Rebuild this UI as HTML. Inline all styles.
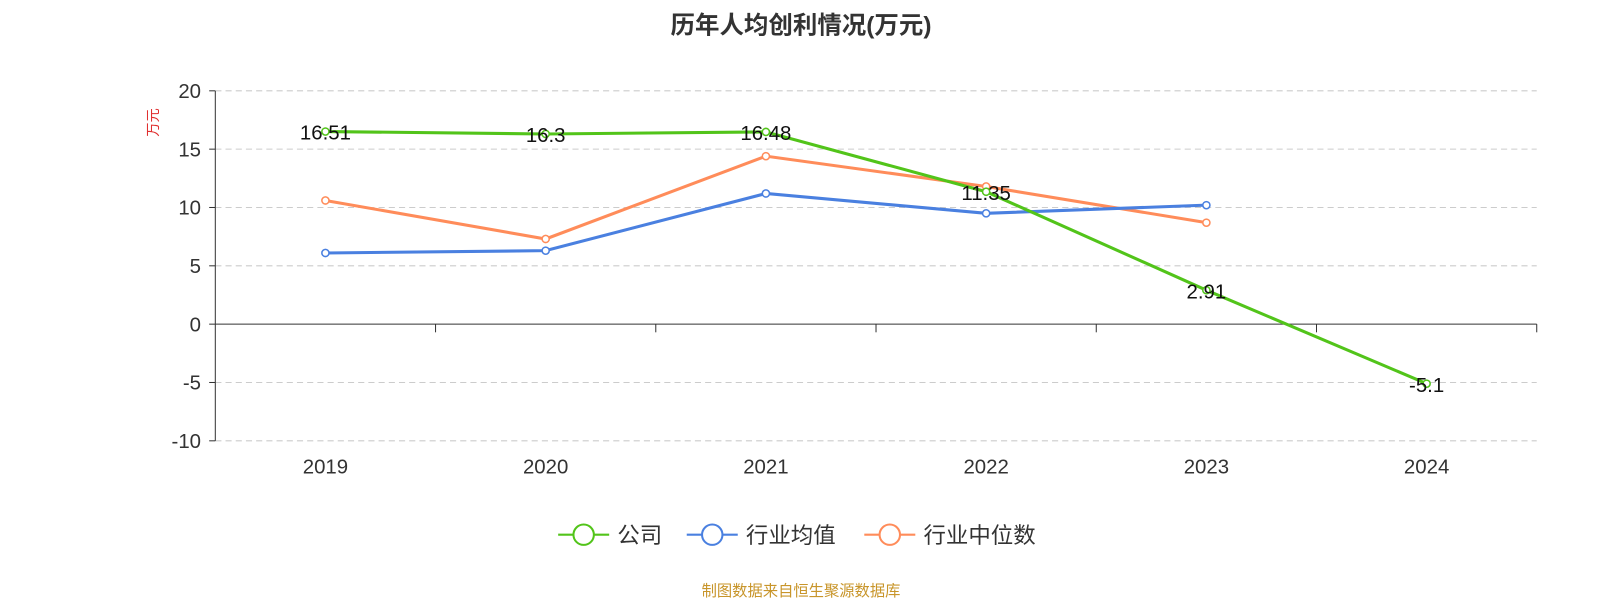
<!DOCTYPE html>
<html><head><meta charset="utf-8"><style>
body{margin:0;background:#fff;width:1600px;height:600px;overflow:hidden;font-family:"Liberation Sans","Noto Sans CJK SC",sans-serif}
svg{display:block}
</style></head><body>
<svg id="c" width="1600" height="600" viewBox="0 0 1568 588" xmlns="http://www.w3.org/2000/svg" font-family="Liberation Sans, Noto Sans CJK SC, sans-serif">
<text x="785" y="33" text-anchor="middle" font-size="24" font-weight="bold" fill="#333">历年人均创利情况(万元)</text>
<text transform="translate(155,120) rotate(-90)" text-anchor="middle" font-size="14" fill="#e03030">万元</text>
<g id="grid"></g><g id="axes"></g><g id="series"></g>
<g>
<g><line x1="547" y1="524" x2="597" y2="524" stroke="#52c41a" stroke-width="2"/><circle cx="572" cy="524" r="10" fill="#fff" stroke="#52c41a" stroke-width="2"/><text x="605" y="532" font-size="22" fill="#333">公司</text></g>
<g><line x1="673" y1="524" x2="723" y2="524" stroke="#4a80e0" stroke-width="2"/><circle cx="698" cy="524" r="10" fill="#fff" stroke="#4a80e0" stroke-width="2"/><text x="731" y="532" font-size="22" fill="#333">行业均值</text></g>
<g><line x1="847" y1="524" x2="897" y2="524" stroke="#ff8c5a" stroke-width="2"/><circle cx="872" cy="524" r="10" fill="#fff" stroke="#ff8c5a" stroke-width="2"/><text x="905" y="532" font-size="22" fill="#333">行业中位数</text></g>
</g>
<text x="785" y="584" text-anchor="middle" font-size="15" fill="#c8952a">制图数据来自恒生聚源数据库</text>
</svg>
<script>
const categories=["2019","2020","2021","2022","2023","2024"];
const company=[16.51,16.3,16.48,11.35,2.91,-5.1];
const industryAvg=[6.1,6.3,11.2,9.5,10.2];
const industryMedian=[10.6,7.3,14.4,11.8,8.7];
const yTicks=[20,15,10,5,0,-5,-10];
const NS="http://www.w3.org/2000/svg";
const L=211,R=1506,T=89,B=432,ymin=-10,ymax=20;
const bw=(R-L)/categories.length;
const x=i=>L+bw*(i+0.5);
const y=v=>B-(v-ymin)/(ymax-ymin)*(B-T);
function mk(tag,attrs,parent,text){const e=document.createElementNS(NS,tag);for(const k in attrs)e.setAttribute(k,attrs[k]);if(text!==undefined)e.textContent=text;document.getElementById(parent).appendChild(e);return e;}
yTicks.forEach(v=>{
 if(v!==0){const g=mk('line',{x1:L,x2:R,y1:y(v),y2:y(v),stroke:'#ccc','stroke-dasharray':'6,4'},'grid');
 
 }
 const t=mk('line',{x1:L-6,x2:L,y1:y(v),y2:y(v),stroke:'#333'},'axes');
 
 
 const l=mk('text',{x:L-14,y:y(v)+7,'text-anchor':'end','font-size':20,fill:'#333'},'axes',String(v));
 
 
});
const ya=mk('line',{x1:L,x2:L,y1:T,y2:B,stroke:'#333'},'axes');


const xa=mk('line',{x1:L,x2:R,y1:y(0),y2:y(0),stroke:'#333'},'axes');


categories.forEach((c,i)=>{
 const t=mk('line',{x1:L+bw*(i+1),x2:L+bw*(i+1),y1:y(0),y2:y(0)+8,stroke:'#333'},'axes');
 
 
 const l=mk('text',{x:x(i),y:464,'text-anchor':'middle','font-size':20,fill:'#333'},'axes',c);
 
 
});
function series(data,color,name,labels){
 const p=mk('polyline',{points:data.map((v,i)=>x(i)+','+y(v)).join(' '),fill:'none',stroke:color,'stroke-width':3},'series');
 
 
 data.forEach((v,i)=>{
  const c=mk('circle',{cx:x(i),cy:y(v),r:3.5,fill:'#fff',stroke:color,'stroke-width':1.5},'series');
  
  
  if(labels){const t=mk('text',{x:x(i),y:y(v)+8,'text-anchor':'middle','font-size':20,fill:'#111'},'series',String(v));
  
  }
 });
}
series(industryMedian,'#ff8c5a','industry-median',false);
series(industryAvg,'#4a80e0','industry-average',false);
series(company,'#52c41a','company',true);
</script>
</body></html>
